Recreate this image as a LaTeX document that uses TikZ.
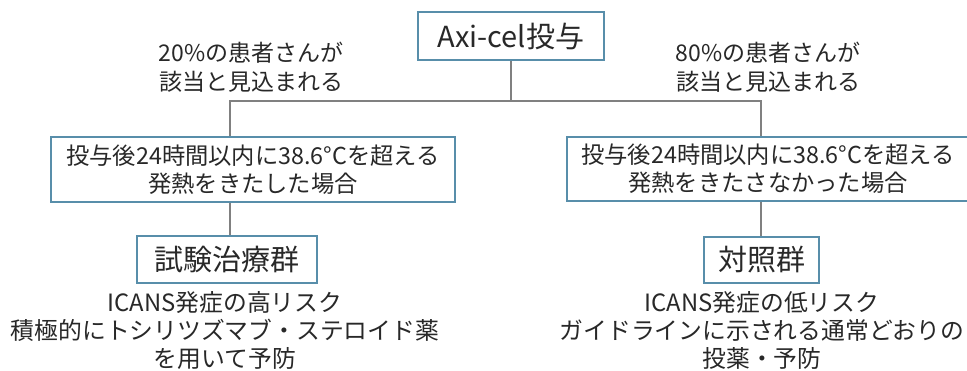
\documentclass[tikz,border=0pt]{standalone}
\usepackage{fontspec}
\setmainfont{Noto Sans CJK JP}
\definecolor{boxblue}{RGB}{88,142,170}
\definecolor{linegray}{RGB}{128,128,128}
\definecolor{txt}{RGB}{40,40,40}
\tikzset{
  box/.style={draw=boxblue, line width=1.6pt, fill=white, inner sep=0pt, text=txt, align=center},
  conn/.style={draw=linegray, line width=1.6pt},
  lbl/.style={inner sep=0pt, text=txt, align=center, font=\fontsize{23}{29}\selectfont},
}
\begin{document}
\begin{tikzpicture}[x=1pt,y=-1pt]
\useasboundingbox[fill=white] (0,0) rectangle (967,370);
% boxes
\node[box, minimum width=186pt, minimum height=48pt, font=\fontsize{29}{32}\selectfont] (top) at (511,36) {Axi-cel投与};
\node[box, minimum width=404pt, minimum height=65pt, font=\fontsize{23.3}{28}\selectfont] (midl) at (253,169.5) {投与後24時間以内に38.6°Cを超える\\発熱をきたした場合};
\node[box, minimum width=402pt, minimum height=64pt, font=\fontsize{23.3}{28}\selectfont] (midr) at (768,169) {投与後24時間以内に38.6°Cを超える\\発熱をきたさなかった場合};
\node[box, minimum width=180pt, minimum height=47pt, font=\fontsize{29}{32}\selectfont] (grpl) at (227,259.5) {試験治療群};
\node[box, minimum width=115pt, minimum height=46pt, font=\fontsize{29}{32}\selectfont] (grpr) at (761.5,260) {対照群};
% labels
\node[lbl] (labl) at (251,67) {20\%の患者さんが\\該当と見込まれる};
\node[lbl] (labr) at (768,67) {80\%の患者さんが\\該当と見込まれる};
\node[lbl, font=\fontsize{23.8}{28}\selectfont] (descl) at (225,330) {ICANS発症の高リスク\\積極的にトシリツズマブ・ステロイド薬\\を用いて予防};
\node[lbl, font=\fontsize{23.8}{28}\selectfont] (descr) at (762,330) {ICANS発症の低リスク\\ガイドラインに示される通常どおりの\\投薬・予防};
% connectors
\coordinate (j) at (511,101);
\coordinate (jl) at (230,101);
\coordinate (jr) at (761,101);
\draw[conn] (top.south) -- (j);
\draw[conn] (jl |- midl.north) -- (jl) -- (jr) -- (jr |- midr.north);
\draw[conn] (jl |- midl.south) -- (jl |- grpl.north);
\draw[conn] (jr |- midr.south) -- (jr |- grpr.north);
\end{tikzpicture}
\end{document}
